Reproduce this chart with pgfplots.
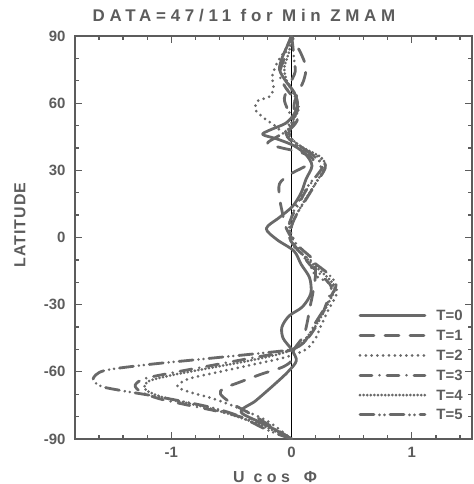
\documentclass[border=0pt]{standalone}
\usepackage{pgfplots}
\pgfplotsset{compat=1.18}
\usepackage{fontspec}
\setmainfont{Liberation Sans}
\newfontfamily\spaced[LetterSpace=28]{Liberation Sans}
\newfontfamily\lspaced[LetterSpace=6]{Liberation Sans}
\definecolor{ink}{RGB}{92,92,92}
\definecolor{crv}{RGB}{105,105,105}
\begin{document}
\begin{tikzpicture}
\begin{axis}[
  scale only axis, width=397bp, height=403bp,
  xmin=-1.8, xmax=1.5, ymin=-90, ymax=90,
  xtick={-1,0,1}, xticklabels={-1,0,1},
  ytick={-90,-60,-30,0,30,60,90}, yticklabels={-90,-60,-30,0,30,60,90},
  minor xtick={-1.8,-1.6,-1.4,-1.2,-0.8,-0.6,-0.4,-0.2,0.2,0.4,0.6,0.8,1.2,1.4},
  minor ytick={-80,-70,-50,-40,-20,-10,10,20,40,50,70,80},
  tick align=inside, major tick length=7bp, minor tick length=4bp,
  every tick/.style={ink, line width=1.3bp},
  axis line style={ink, line width=2bp},
  xticklabel style={font=\bfseries\fontsize{15}{15}\selectfont, text=ink, yshift=-5bp},
  yticklabel style={font=\bfseries\fontsize{15}{15}\selectfont, text=ink, xshift=-6bp},
  title={DATA=47/11 for Min ZMAM},
  title style={font=\spaced\bfseries\fontsize{17}{17}\selectfont, text=ink, at={(axis description cs:0.4257,1)}, anchor=base, inner sep=0pt, yshift=9bp},
  xlabel={U\hspace{9bp}cos\hspace{14bp}Φ},
  xlabel style={font=\spaced\bfseries\fontsize{16}{16}\selectfont, text=ink, at={(axis description cs:0.504,0)}, anchor=base, inner sep=0pt, yshift=-43bp},
  ylabel={LATITUDE},
  ylabel style={font=\lspaced\bfseries\fontsize{16}{16}\selectfont, text=ink, at={(axis description cs:-0.1385,0.531)}, anchor=center, inner sep=0pt},
  legend style={at={(axis description cs:0.977,0.047)}, anchor=south east, draw=none, fill=none,
    font=\bfseries\fontsize{15}{15}\selectfont, text=ink, row sep=9.8bp, column sep=0bp, inner sep=0pt,
    nodes={inner sep=0pt, text height=10bp, text depth=0pt}},
  legend image code/.code={\draw[#1] (0bp,0bp) -- (65bp,0bp); \path (75bp,0bp);},
  legend cell align=left,
  every axis plot/.append style={crv, line width=2.8bp, line cap=round, line join=round, smooth, tension=0.5},
  clip=true,
]
\addplot[black, line width=0.9bp, forget plot, smooth=false] coordinates {(0,-90) (0,90)};
% T=0 solid
\addplot[solid] coordinates {
(0,-90) (-0.2,-84) (-0.42,-78) (-0.3,-73) (-0.15,-66) (-0.03,-60) (0.04,-55) (0.0,-50)
(-0.07,-45) (-0.08,-40) (-0.02,-35) (0.09,-31) (0.16,-25) (0.15,-18) (0.08,-12) (0.02,-6)
(-0.12,-1) (-0.21,4) (-0.1,9) (0.01,14) (0.08,20) (0.12,26) (0.17,32) (0.12,37) (0.02,41)
(-0.12,44) (-0.24,46) (-0.18,48) (-0.05,51) (0.02,55) (0.05,60) (0.02,65) (-0.05,70)
(-0.1,75) (-0.08,80) (-0.04,85) (0,90)};
\addlegendentry{T=0}
% T=1 long dash
\addplot[dash pattern=on 14bp off 11bp] coordinates {
(0,-90) (-0.15,-85) (-0.3,-80) (-0.5,-74) (-0.59,-70) (-0.57,-67.5) (-0.45,-65) (-0.25,-61)
(-0.08,-58) (0.0,-55) (0.02,-50) (0.1,-44) (0.13,-38) (0.15,-32) (0.18,-24) (0.2,-16)
(0.18,-10) (0.08,-5) (0.0,0) (-0.05,5) (-0.08,12) (-0.1,18) (-0.1,24) (-0.02,28) (0.12,32)
(0.18,35) (0.08,38) (-0.08,40) (-0.2,42) (-0.12,45) (0.0,49) (0.05,53) (0.02,58) (0.04,63)
(0.1,70) (0.12,76) (0.08,82) (0.03,87) (0,90)};
\addlegendentry{T=1}
% T=2 dotted
\addplot[dash pattern=on 0bp off 5.8bp, line width=3bp] coordinates {
(0,-90) (-0.2,-82) (-0.45,-76) (-0.65,-72) (-0.85,-69) (-0.95,-66.5) (-0.85,-63) (-0.6,-60)
(-0.3,-56.5) (-0.05,-53.5) (0.12,-50) (0.2,-45) (0.24,-40) (0.3,-33) (0.38,-24) (0.3,-20)
(0.2,-17) (0.15,-12) (0.08,-7) (0.03,-2) (-0.02,5) (0.02,12) (0.08,18) (0.15,24) (0.24,30)
(0.22,35) (0.1,38) (0.02,42) (-0.06,46) (-0.14,50) (-0.22,53) (-0.3,57) (-0.28,61)
(-0.18,63) (-0.15,67) (-0.16,72) (-0.12,78) (-0.05,84) (0,90)};
\addlegendentry{T=2}
% T=3 dash-dot
\addplot[dash pattern=on 12bp off 7.5bp on 0bp off 7.5bp] coordinates {
(0,-90) (-0.2,-84) (-0.5,-79) (-0.85,-75) (-1.1,-72) (-1.25,-69) (-1.30,-66) (-1.22,-63)
(-0.95,-60) (-0.6,-56.5) (-0.3,-53.5) (-0.05,-51) (0.08,-48) (0.15,-44) (0.2,-40) (0.25,-35)
(0.3,-28) (0.33,-22) (0.25,-17) (0.15,-12) (0.08,-7) (0.0,-2) (-0.03,3) (0.0,9) (0.06,15)
(0.12,21) (0.2,27) (0.26,32) (0.2,36) (0.08,40) (-0.02,44) (-0.05,48) (0.0,52) (0.05,57)
(0.02,62) (-0.05,67) (-0.1,73) (-0.06,80) (-0.03,86) (0,90)};
\addlegendentry{T=3}
% T=4 dense dots
\addplot[dash pattern=on 0bp off 3.6bp, line width=3bp] coordinates {
(0,-90) (-0.2,-85) (-0.45,-80) (-0.7,-76) (-0.95,-73) (-1.12,-70.5) (-1.22,-67.5) (-1.18,-64)
(-0.95,-61) (-0.65,-58) (-0.35,-55) (-0.1,-52) (0.05,-49) (0.12,-45) (0.18,-41) (0.24,-36)
(0.3,-30) (0.36,-23) (0.32,-19) (0.2,-13) (0.1,-8) (0.02,-4) (-0.02,1) (0.02,8) (0.08,14)
(0.15,20) (0.22,26) (0.28,32) (0.24,36) (0.1,40) (0.0,44) (-0.03,48) (0.02,53) (0.06,58)
(0.02,64) (-0.04,70) (-0.06,76) (-0.02,83) (0,90)};
\addlegendentry{T=4}
% T=5 dash-dot-dot
\addplot[dash pattern=on 14bp off 5.5bp on 0bp off 5bp on 0bp off 5.5bp] coordinates {
(0,-90) (-0.2,-86) (-0.45,-79.5) (-0.7,-75.5) (-1.1,-71.2) (-1.4,-68.5) (-1.58,-66.5)
(-1.65,-63.3) (-1.56,-59.5) (-1.2,-56.8) (-0.76,-54.4) (-0.26,-51.7) (0.0,-50) (0.1,-47)
(0.15,-43) (0.2,-38) (0.27,-32) (0.33,-26) (0.37,-21) (0.3,-16) (0.18,-11) (0.06,-6)
(0.0,-1) (0.0,5) (0.05,11) (0.12,17) (0.2,24) (0.28,31) (0.25,35) (0.12,39) (0.02,43)
(-0.02,47) (0.02,52) (-0.03,57) (-0.06,62) (-0.02,68) (0.03,74) (0.02,80) (0.01,86) (0,90)};
\addlegendentry{T=5}
\end{axis}
\pgfresetboundingbox
\path[use as bounding box] ([xshift=-75bp,yshift=-45bp]current axis.south west) rectangle ([xshift=2bp,yshift=36bp]current axis.north east);
\end{tikzpicture}
\end{document}
